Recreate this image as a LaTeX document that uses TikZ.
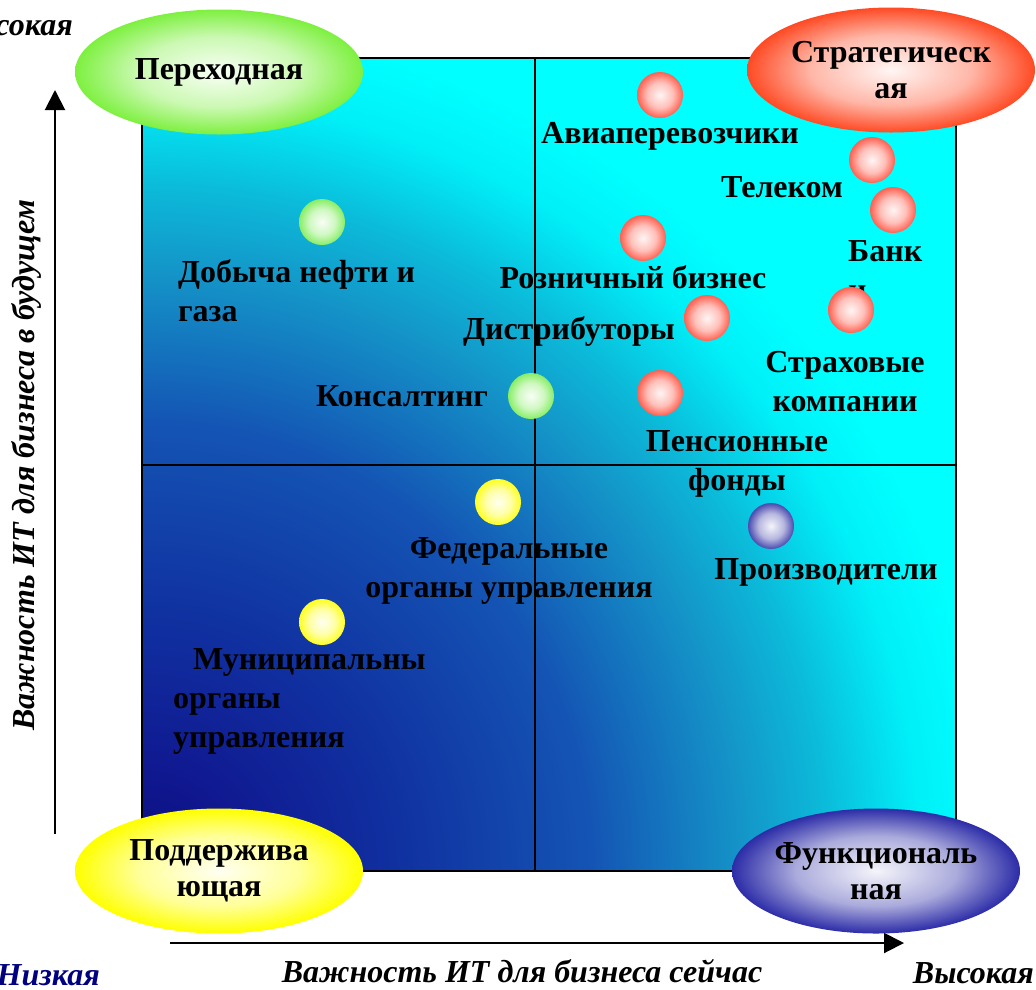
\documentclass[tikz,border=0pt]{standalone}
\usepackage{fontspec}
\setmainfont{Liberation Serif}
\usetikzlibrary{positioning,shapes,arrows.meta}

\newcommand\lblfont{\fontsize{32}{39}\selectfont\bfseries}
\newcommand\zonefont{\fontsize{32}{36}\selectfont\bfseries}
\newcommand\axisfont{\fontsize{32}{39}\selectfont\bfseries\itshape}

\definecolor{bgdeep}{HTML}{0A0C7C}
\definecolor{bgnavy}{HTML}{101890}
\definecolor{bgdark}{HTML}{1030A0}
\definecolor{bgblue}{HTML}{1454B4}
\definecolor{bgmid}{HTML}{1494C8}
\definecolor{bgteal}{HTML}{0CB8D8}
\definecolor{bglight}{HTML}{00F0F8}
\definecolor{bgcyan}{HTML}{00FFFF}
\definecolor{bubred}{HTML}{FF6050}
\definecolor{bubgreen}{HTML}{88EE66}
\definecolor{bubyellow}{HTML}{FFFF20}
\definecolor{bubblue}{HTML}{4A4AB0}
\definecolor{zonegreen}{HTML}{7EF040}
\definecolor{zonered}{HTML}{FF4A24}
\definecolor{zoneyellow}{HTML}{FFFF00}
\definecolor{zoneblue}{HTML}{2C2CA8}
\definecolor{lownavy}{HTML}{000080}
\colorlet{glowin}{white}
\colorlet{glowmid}{pink}
\colorlet{glowout}{red}

\pgfdeclareradialshading{quadbg}{\pgfpoint{0bp}{0bp}}{color(0bp)=(bgdeep); color(2.9bp)=(bgnavy);
  color(7.4bp)=(bgdark); color(13.2bp)=(bgblue); color(17.6bp)=(bgmid); color(20bp)=(bgteal);
  color(22.9bp)=(bglight); color(25bp)=(bgcyan); color(50bp)=(bgcyan)}
\pgfdeclareradialshading[glowin,glowmid,glowout]{glow}{\pgfpoint{0bp}{0bp}}{color(0bp)=(glowin);
  color(14bp)=(glowmid); color(25bp)=(glowout); color(50bp)=(glowout)}

\begin{document}
\begin{tikzpicture}[x=1pt, y=-1pt]
    \tikzset{
        glow colors/.code 2 args = {\colorlet{glowin}{#1}\colorlet{glowmid}{#2!40!white}\colorlet{glowout}{#2}},
        lbl/.style = {font=\lblfont, align=center, inner sep=0pt},
        axislbl/.style = {font=\axisfont, inner sep=0pt},
        bubble/.style = {circle, minimum size=46pt, inner sep=0pt, shading=glow, glow colors={#1!6!white}{#1}},
        zone/.style = {ellipse, minimum width=288pt, minimum height=125pt, inner sep=0pt, align=center,
                       font=\zonefont, shading=glow, glow colors={#1!5!white}{#1}},
        axisarrow/.style = {line width=2pt, -{Triangle[length=20pt, width=20pt]}},
        divider/.style = {line width=1.5pt},
    }
    \useasboundingbox (0,0) rectangle (1036,989);

    \coordinate (sw) at (142,871);
    \coordinate (ne) at (956,58);
    \begin{scope}
        \clip (sw) rectangle (ne);
        \fill [bgcyan] (sw) rectangle (ne);
        \shade [shading=quadbg] (sw) circle (850pt);
    \end{scope}
    \coordinate (midtop) at (535,58);
    \coordinate (midbot) at (535,871);
    \coordinate (midleft) at (142,465);
    \coordinate (midright) at (956,465);
    \draw [divider] (sw) rectangle (ne);
    \draw [divider] (midtop) -- (midbot);
    \draw [divider] (midleft) -- (midright);

    \coordinate (yfrom) at (55,834);
    \coordinate (yto) at (55,90);
    \coordinate (xfrom) at (170,943);
    \coordinate (xto) at (904,943);
    \draw [axisarrow] (yfrom) -- (yto);
    \draw [axisarrow] (xfrom) -- (xto);

    \node (hiY) [axislbl, anchor=base east] at (73,35) {Высокая};
    \node (loX) [axislbl, anchor=base east, text=lownavy] at (100,985) {Низкая};
    \node (hiX) [axislbl, anchor=base east] at (1034,983) {Высокая};
    \node (xcap) [axislbl, anchor=base] at (522,982) {Важность ИТ для бизнеса сейчас};
    \node (ycap) [axislbl, anchor=base, rotate=90] at (34,465) {Важность ИТ для бизнеса в будущем};

    \node (tavia) [lbl] at (670,136) {Авиаперевозчики};
    \node (ttel) [lbl] at (782,187) {Телеком};
    \node (tbank) [lbl, align=left, anchor=west] at (848,271) {Банк\\и};
    \node (tretail) [lbl] at (633,277) {Розничный бизнес};
    \node (tdistr) [lbl] at (569,331) {Дистрибуторы};
    \node (tinsur) [lbl] at (845,382) {Страховые\\компании};
    \node (tpens) [lbl] at (737,464) {Пенсионные\\фонды};
    \node (toil) [lbl, align=left, anchor=west] at (178,291) {Добыча нефти и\\газа};
    \node (tcons) [lbl] at (402,396) {Консалтинг};
    \node (tfed) [lbl] at (509,571) {Федеральные\\органы управления};
    \node (tprod) [lbl] at (826,572) {Производители};
    \node (tmun) [lbl, align=left, anchor=west] at (173,701) {\hspace*{20pt}Муниципальны\\органы\\управления};

    \node (avia) [bubble=bubred] at (660,95) {};
    \node (tel) [bubble=bubred] at (872,160) {};
    \node (bank) [bubble=bubred] at (893,210) {};
    \node (retail) [bubble=bubred] at (643,238) {};
    \node (distr) [bubble=bubred] at (707,318) {};
    \node (insur) [bubble=bubred] at (851,310) {};
    \node (pens) [bubble=bubred] at (660,393) {};
    \node (oil) [bubble=bubgreen] at (322,222) {};
    \node (cons) [bubble=bubgreen] at (531,396) {};
    \node (fed) [bubble=bubyellow] at (498,502) {};
    \node (mun) [bubble=bubyellow] at (322,622) {};
    \node (prod) [bubble=bubblue] at (771,526) {};

    \node (trans) [zone=zonegreen] at (219,72) {Переходная};
    \node (strat) [zone=zonered] at (891,70) {Стратегическ\\ая};
    \node (supp) [zone=zoneyellow] at (219,871) {Поддержива\\ющая};
    \node (func) [zone=zoneblue] at (876,871) {Функциональ\\ная};
\end{tikzpicture}
\end{document}
